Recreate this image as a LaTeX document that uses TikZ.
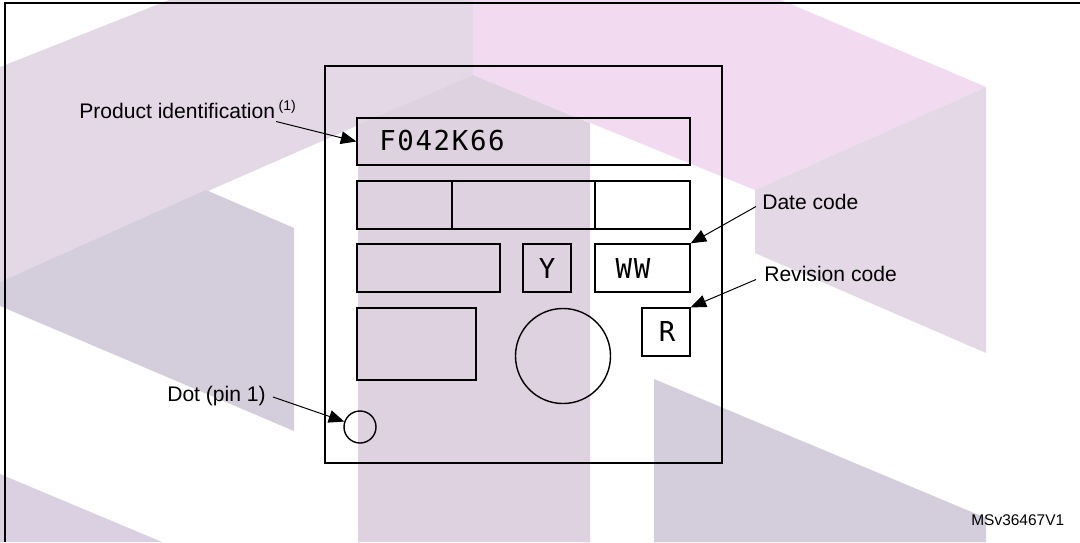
\documentclass[tikz,border=0pt]{standalone}
\usepackage{fontspec}
\setmainfont{Liberation Sans}
\newfontfamily\segfont{DejaVu Sans Mono}[LetterSpace=6]
\usetikzlibrary{positioning, arrows.meta, fit}
\definecolor{MarkLilac}{HTML}{E4D8E7}
\definecolor{MarkPink}{HTML}{F2DAF1}
\definecolor{MarkStem}{HTML}{DED1E0}
\definecolor{MarkGray}{HTML}{D4CDDB}
\definecolor{MarkLow}{HTML}{DAD0E2}

\begin{document}
\begin{tikzpicture}[x=0.025cm, y=-0.025cm,
        box/.style={draw, line width=1pt, inner sep=0pt},
        seg/.style={font=\segfont\fontsize{19.5}{20}\selectfont, inner sep=0pt},
        lbl/.style={font=\fontsize{15}{18}\selectfont, inner sep=0pt},
        arr/.style={-{Triangle[length=11pt, width=9pt]}, line width=0.7pt}]
                \useasboundingbox (0,0) rectangle (1080,542);
                % Fondo
                \fill[MarkLilac] (0,67) -- (169,0) -- (473,0) -- (473,75) -- (0,282) -- cycle;
                \fill[MarkPink] (473,0) -- (781,0) -- (986,87) -- (755,190) -- (473,75) -- cycle;
                \fill[MarkStem] (358,125) -- (473,75) -- (590,123) -- (590,542) -- (358,542) -- cycle;
                \fill[MarkLilac] (755,190) -- (986,87) -- (986,353) -- (755,253) -- cycle;
                \fill[MarkGray] (0,282) -- (206,190) -- (294,228) -- (294,431) -- (0,306) -- cycle;
                \fill[MarkLow] (0,474) -- (162,542) -- (0,542) -- cycle;
                \fill[MarkGray] (654,379) -- (986,518) -- (986,542) -- (654,542) -- cycle;
                % Marco
                \draw[line width=1.4pt] (5,542) -- (5,3) -- (1080,3);
                % Nodos
                \node[fit={(325,66) (722,463)}, draw, line width=1.4pt, inner sep=0pt] (chip) {};
                \node[box, fit={(357,118) (690,165)}] (prodid) {};
                \node[box, fit={(357,181) (452,229)}] (lotA) {};
                \node[box, fit={(452,181) (595,229)}] (lotB) {};
                \node[box, fit={(595,181) (690,229)}] (lotC) {};
                \node[box, fit={(357,244) (500,292)}] (origin) {};
                \node[box, fit={(523,244) (571,292)}] (yearbox) {};
                \node[box, fit={(595,244) (690,292)}] (weekbox) {};
                \node[box, fit={(357,308) (476,380)}] (logo) {};
                \node[box, fit={(642,308) (690,356)}] (revbox) {};
                \node[circle, draw, line width=1pt, minimum size=2.375cm, inner sep=0pt] (bigdot) at (563,356) {};
                \node[circle, draw, line width=1pt, minimum size=0.8cm, inner sep=0pt] (pindot) at (360,427) {};
                \node[seg, anchor=west] (prodtxt) at (379,141) {F042K66};
                \node[seg] (ytxt) at (547,268) {Y};
                \node[seg] (wwtxt) at (633,268) {WW};
                \node[seg] (rtxt) at (667,331) {R};
                % Etiquetas
                \node[lbl, anchor=base west] (prodlbl) at (79,118.5) {Product identification\,{\fontsize{10}{12}\selectfont\raisebox{0.6em}{(1)}}};
                \node[lbl, anchor=base west] (datelbl) at (762,209.5) {Date code};
                \node[lbl, anchor=base west] (revlbl) at (764,281.5) {Revision code};
                \node[lbl, anchor=base west] (dotlbl) at (167,401) {Dot (pin 1)};
                \node[font=\fontsize{11}{13}\selectfont, inner sep=0pt, anchor=base east] (figid) at (1064.5,525.5) {MSv36467V1};
                % Conexiones
                \draw[arr] ([shift={(-20,3)}]prodlbl.base east) -- (prodid.west);
                \draw[arr] ([shift={(-6,-3)}]datelbl.base west) -- (weekbox.north east);
                \draw[arr] ([shift={(-8,-2)}]revlbl.base west) -- (revbox.north east);
                \draw[arr] ([shift={(7,-4)}]dotlbl.base east) -- (pindot);
            \end{tikzpicture}
\end{document}
